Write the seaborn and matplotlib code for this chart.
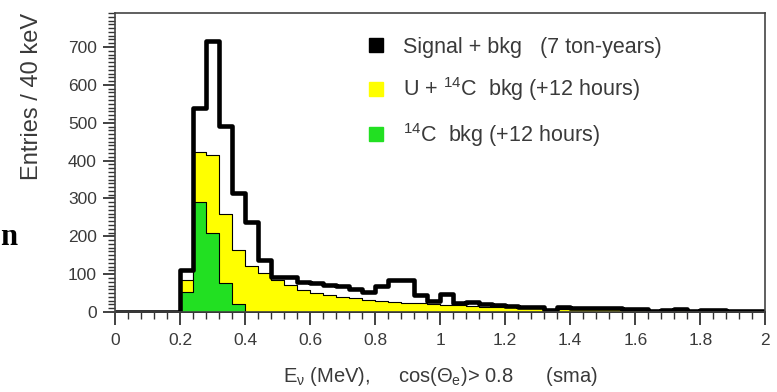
import numpy as np
import pandas as pd
import matplotlib
matplotlib.use("Agg")
import matplotlib.pyplot as plt
from matplotlib.lines import Line2D
from matplotlib.ticker import MultipleLocator
import seaborn as sns

# ==========================================
# DATOS (bins de 40 keV)
# ==========================================
bin_centers = np.arange(0.02, 2.0, 0.04)

# Signal + bkg (7 ton-years)
signal_bkg = [0, 0, 0, 0, 0,
              110, 540, 715, 492, 315, 238, 138, 92, 92, 79,
              76, 71, 68, 62, 52, 68, 84, 84, 45, 28,
              48, 23, 26, 22, 19, 16, 14, 12, 5, 14,
              11, 10, 10, 10, 9, 9, 3, 6, 7, 3,
              6, 5, 4, 2, 3]

# U + 14C bkg (+12 hours)
u_c14_bkg = [0, 0, 0, 0, 0,
             85, 422, 416, 260, 163, 121, 103, 84, 71, 58,
             50, 45, 40, 36, 32, 30, 27, 25, 23, 21,
             19, 18, 16, 14, 13, 12, 11, 10, 9, 9,
             8, 8, 7, 7, 6, 6, 5, 6, 5, 4,
             5, 4, 3, 2, 2]

# 14C bkg (+12 hours)
c14_bkg = [0, 0, 0, 0, 0,
           53, 290, 210, 78, 20, 0, 0, 0, 0, 0,
           0, 0, 0, 0, 0, 0, 0, 0, 0, 0,
           0, 0, 0, 0, 0, 0, 0, 0, 0, 0,
           0, 0, 0, 0, 0, 0, 0, 0, 0, 0,
           0, 0, 0, 0, 0]

labels = ["Signal + bkg   (7 ton-years)",
          "U + $^{14}$C  bkg (+12 hours)",
          "$^{14}$C  bkg (+12 hours)"]
colores = ["black", "#ffff00", "#22e022"]

df = pd.DataFrame({
    "energia": bin_centers,
    "signal": signal_bkg,
    "u_c14": u_c14_bkg,
    "c14": c14_bkg,
})

# ==========================================
# ESTILO
# ==========================================
sns.set_style("ticks")
plt.rcParams["font.family"] = ["Liberation Sans", "DejaVu Sans"]
plt.rcParams["mathtext.default"] = "regular"
texto_gris = "#3a3a3a"

fig = plt.figure(figsize=(7.77, 3.92), dpi=100)
ax = fig.add_axes([0.148, 0.204, 0.837, 0.763])

hist_kws = dict(data=df, x="energia", binwidth=0.04, binrange=(0, 2), element="step", ax=ax)
# Rellenos: U + 14C (amarillo) y 14C (verde)
sns.histplot(weights="u_c14", fill=True, color=colores[1], alpha=1,
             edgecolor="black", linewidth=0.8, **hist_kws)
sns.histplot(weights="c14", fill=True, color=colores[2], alpha=1,
             edgecolor="black", linewidth=0.8, **hist_kws)
# Contorno grueso: Signal + bkg
sns.histplot(weights="signal", fill=False, color="black", linewidth=3.3, **hist_kws)

ax.set_xlim(0, 2)
ax.set_ylim(0, 790)
ax.xaxis.set_minor_locator(MultipleLocator(0.04))
ax.yaxis.set_minor_locator(MultipleLocator(10))
ax.set_xticks(np.arange(0, 2.01, 0.2))
ax.set_xticklabels(["0", "0.2", "0.4", "0.6", "0.8", "1", "1.2", "1.4", "1.6", "1.8", "2"])
ax.set_yticks(range(0, 701, 100))

ax.tick_params(axis="both", which="major", length=9, width=1.3, color="#333333",
               labelsize=12.5, labelcolor=texto_gris, pad=4)
ax.tick_params(axis="both", which="minor", length=5, width=1.0, color="#333333")
ax.tick_params(axis="x", which="major", pad=6)
for lado in ["left", "bottom", "top", "right"]:
    ax.spines[lado].set_color("#444444")
    ax.spines[lado].set_linewidth(1.2)

ax.set_xlabel(r"E$_{\nu}$ (MeV),     cos($\Theta_{e}$)> 0.8      (sma)",
              fontsize=14.5, color=texto_gris, labelpad=12)
ax.set_ylabel("Entries / 40 keV", fontsize=17, color=texto_gris, loc="top")
ax.yaxis.set_label_coords(-0.11, 1.0)

handles = [Line2D([], [], marker="s", linestyle="none", markersize=9.5,
                  markerfacecolor=c, markeredgecolor=c) for c in colores]
ax.legend(handles, labels, loc="upper left", bbox_to_anchor=(0.36, 0.985),
          frameon=False, fontsize=15.5, labelspacing=0.82, handlelength=0.7,
          handletextpad=0.9, labelcolor=texto_gris)

# Trozo de texto cortado en el margen izquierdo
fig.text(0.0, 0.375, "n", fontsize=22, fontweight="bold",
         family=["Liberation Serif", "DejaVu Serif"], color="black")

fig.savefig("out.png", dpi=100)
